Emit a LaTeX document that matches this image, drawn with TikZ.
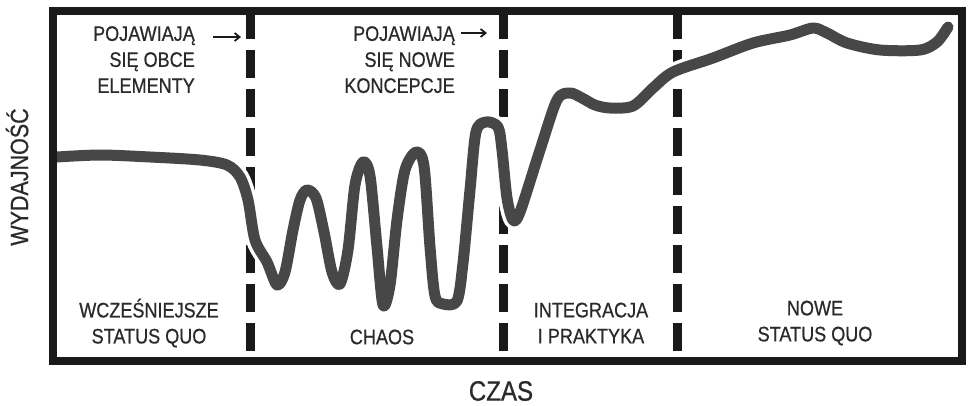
\documentclass[tikz,border=0pt]{standalone}
\usepackage{fontspec}
\setmainfont{Liberation Sans}[FakeStretch=0.86,FakeBold=0.6]
\usetikzlibrary{arrows.meta}
\definecolor{ink}{HTML}{1A1A1A}
\definecolor{curvegray}{HTML}{474747}
\definecolor{txt}{HTML}{2A2A2A}
\tikzset{
  frame/.style={draw=ink, line width=8pt},
  divider/.style={draw=ink, line width=9pt, dash pattern=on 28pt off 11pt},
  lbl/.style={text=txt, font=\fontsize{21}{26}\selectfont, inner sep=0pt, align=center},
  lblr/.style={lbl, align=right, anchor=north east},
  arr/.style={draw=ink, line width=1.8pt, -{Straight Barb[length=5pt,width=8pt]}},
  perf/.style={draw=curvegray, line width=11pt, line cap=round, line join=round},
  halo/.style={draw=white, line width=18pt, line cap=round, line join=round}
}
\begin{document}
\begin{tikzpicture}[x=1pt,y=-1pt]
\useasboundingbox[fill=white] (0,0) rectangle (968,405);
% dividers
\coordinate (d1t) at (250,11); \coordinate (d1b) at (250,361);
\coordinate (d2t) at (503,11); \coordinate (d2b) at (503,361);
\coordinate (d3t) at (677,11); \coordinate (d3b) at (677,361);
\draw[divider] (d1t) -- (d1b);
\draw[divider] (d2t) -- (d2b);
\draw[divider] (d3t) -- (d3b);
% curve
\def\perfpts{(57,157) (100,155) (150,157) (200,160) (227,165) (240,177) (248,200) (255,240) (267,262) (277,285) (285,272) (293,230) (300,200) (307,190) (316,198) (324,232) (332,272) (340,284) (348,250) (355,185) (363,162) (370,176) (377,247) (383,305) (390,285) (397,220) (405,170) (416,152) (424,166) (430,247) (435,296) (443,304) (457,301) (463,263) (470,190) (476,132) (486,122) (498,127) (502,150) (507,198) (513,220) (520,212) (540,150) (557,100) (570,93) (582,98) (595,105) (610,108) (633,106) (653,88) (673,72) (713,58) (753,43) (790,35) (813,28) (827,33) (847,43) (880,50) (920,50) (937,42) (948,27)}
\draw[halo] plot[smooth, tension=0.5] coordinates {\perfpts};
\draw[perf] plot[smooth, tension=0.5] coordinates {\perfpts};
% frame
\draw[frame] (53,11) rectangle (962,361);
% top labels
\node[lblr] (t1) at (195,26) {POJAWIAJĄ\\SIĘ OBCE\\ELEMENTY};
\node[lblr] (t2) at (455,26) {POJAWIAJĄ\\SIĘ NOWE\\KONCEPCJE};
\coordinate (a1s) at (213,37); \coordinate (a1e) at (241,37);
\coordinate (a2s) at (461,33); \coordinate (a2e) at (487,33);
\draw[arr] (a1s) -- (a1e);
\draw[arr] (a2s) -- (a2e);
% bottom labels
\node[lbl] (b1) at (149,323) {WCZEŚNIEJSZE\\STATUS QUO};
\node[lbl] (b2) at (382,337) {CHAOS};
\node[lbl] (b3) at (591,323) {INTEGRACJA\\I PRAKTYKA};
\node[lbl] (b4) at (815,323) {NOWE\\STATUS QUO};
% axes
\node[lbl, font=\fontsize{28}{30}\selectfont] (x) at (501,391) {CZAS};
\node[lbl, font=\fontsize{25}{28}\selectfont, rotate=90] (y) at (17,177) {WYDAJNOŚĆ};
\end{tikzpicture}
\end{document}
